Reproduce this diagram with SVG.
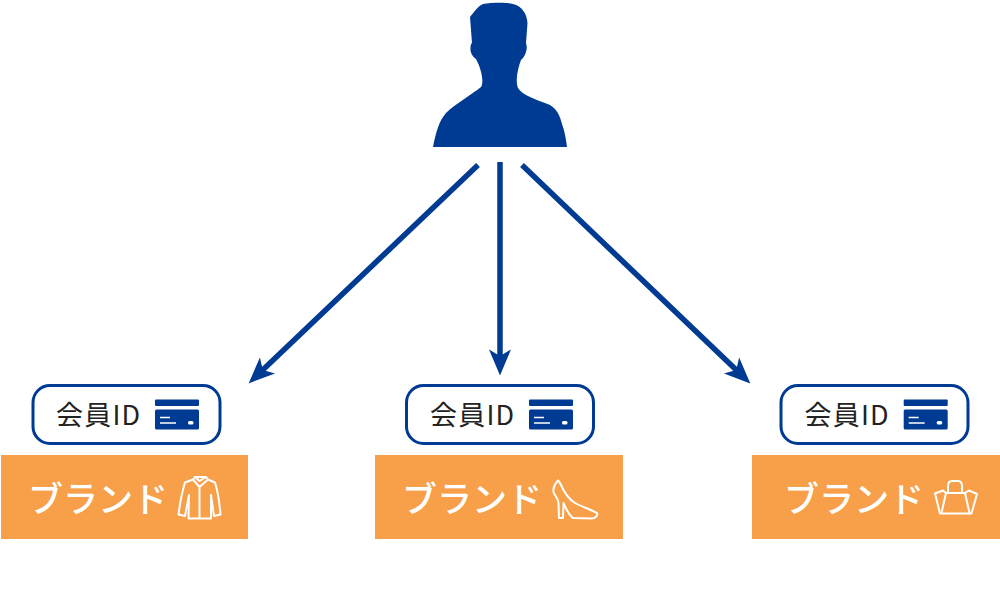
<svg xmlns="http://www.w3.org/2000/svg" xmlns:xlink="http://www.w3.org/1999/xlink" width="1000" height="600" viewBox="0 0 1000 600">
<style>
.idbox{fill:#fff;stroke:#003b93;stroke-width:3}
.brand{fill:#f79f49}
.idt{font-family:"Noto Sans CJK JP","Noto Sans",sans-serif;font-size:27px;letter-spacing:1.2px;fill:#222}
.bt{font-family:"Noto Sans CJK JP","Noto Sans",sans-serif;font-size:35px;font-weight:500;fill:#fff}
.ic{fill:none;stroke:#fff;stroke-width:2;stroke-linejoin:round;stroke-linecap:round}
.conn{stroke:#003b93;stroke-width:5.500;fill:none;marker-end:url(#ah)}
</style>
<defs>
<marker id="ah" markerUnits="userSpaceOnUse" markerWidth="27" markerHeight="23" refX="10" refY="11.5" orient="auto" viewBox="0 0 27 23"><path d="M26.5,11.5 L0.5,0.5 L7,11.5 L0.5,22.5Z" fill="#003b93"/></marker>
<g id="card">
<rect x="155" y="399.5" width="44" height="6.5" rx="1" fill="#003b93"/>
<rect x="155" y="409.5" width="44" height="20" rx="1.5" fill="#003b93"/>
<path d="M160 417.5h10M160 423h16" stroke="#fff" stroke-width="1.5" fill="none"/>
<rect x="188" y="421" width="5.5" height="3.5" rx="1.5" fill="#fff"/>
</g>
</defs>
<g id="connectors">
<line class="conn" x1="478" y1="165" x2="260.6" y2="372"/>
<line class="conn" x1="500" y1="162" x2="500" y2="359"/>
<line class="conn" x1="522" y1="165" x2="738.4" y2="372"/>
</g>
<g id="person">
<path fill="#003b93" d="M433 147 C436 132 439 121 446 113 C455 104 474 93 481 87 C484 83 482 70 476 59 C472 56 470 52 470.500 48 C470.500 45 471 44 472 43 L470 17 C475 11 478 6 483 4 C490 3 505 2 513 4 C522 6 527 14 527.500 23 L526 43 C527 46 527 49 526 52 C525 56 522 59 521 60 C518 68 515 80 518 88 C522 95 537 100 550 105 C557 109 560 116 562 124 C565 132 566 140 567 147 Z"/>
</g>
<g id="node-left">
<rect class="idbox" x="33" y="385.500" width="187" height="58" rx="17"/>
<text class="idt" x="56" y="424.500">会員ID</text>
<use href="#card"/>
<rect class="brand" x="1" y="455" width="247" height="84"/>
<text class="bt" x="28" y="511.500">ブランド</text>
<path class="ic" d="M185 482.500 L193 479.500 L195 477 L206 477 L208 479.500 L215 482.500 C218 492 219.500 503 220.500 514.500 L214 516 L211 495 M185 482.500 C182 492 180 503 178.500 514.500 L185 516 L189 495 M189 495 L188.500 518.500 L211 518.500 L211 495 M193 479.500 L199.500 487 L208 479.500 M195 477 L199.500 481 L206 477 M199.500 487 L199.500 518.500"/>
</g>
<g id="node-center">
<rect class="idbox" x="406.500" y="385.500" width="187" height="58" rx="17"/>
<text class="idt" x="430" y="424.500">会員ID</text>
<use href="#card" x="374"/>
<rect class="brand" x="375" y="455" width="248" height="84"/>
<text class="bt" x="402" y="511.500">ブランド</text>
<path class="ic" d="M558 480.500 C555 484 553 489 553.500 492 C555 496 558 498 558.500 503 L559 518 L563 518 L563.500 503 C566 509 569 515 573 518 L592 518.500 C596 518 598 515 597 513 C590 509 582 507 575 503 C569 499 564 492 561 485 C560 483 559 481 558 480.500 Z"/>
</g>
<g id="node-right">
<rect class="idbox" x="781" y="385.500" width="187" height="58" rx="17"/>
<text class="idt" x="804.500" y="424.500">会員ID</text>
<use href="#card" x="748.700"/>
<rect class="brand" x="752" y="455" width="248" height="84"/>
<text class="bt" x="784" y="511.500">ブランド</text>
<path class="ic" d="M948 492 L948 486 C948 482 950 481 952 481 L958 481 C961 481 962 483 962 486 L962 492 M935 493.500 L943 490.500 L946 493 L965 493 L969 490.500 L977 494 L971.500 513.500 L940 513.500 L935 493.500 M965 493 L969.500 513 M946 493 L941.500 513"/>
</g>
</svg>
